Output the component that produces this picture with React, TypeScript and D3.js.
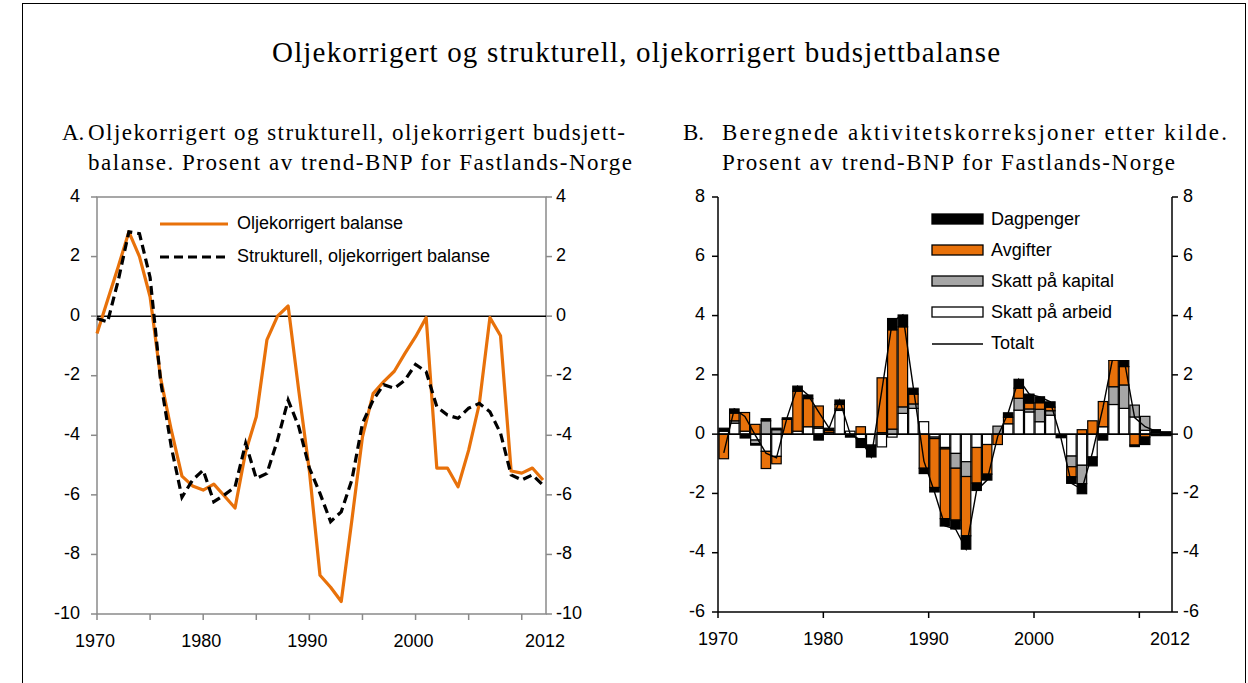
import React from "react";
import * as d3 from "d3";

// år (kategorier)
const years = [
  1970, 1971, 1972, 1973, 1974, 1975, 1976, 1977, 1978, 1979, 1980, 1981,
  1982, 1983, 1984, 1985, 1986, 1987, 1988, 1989, 1990, 1991, 1992, 1993,
  1994, 1995, 1996, 1997, 1998, 1999, 2000, 2001, 2002, 2003, 2004, 2005,
  2006, 2007, 2008, 2009, 2010, 2011, 2012,
];

// Panel A
const oljeBalanse = [
  -0.58, 0.54, 1.66, 2.83, 2.0, 0.65, -2.1, -3.83, -5.37, -5.7, -5.84, -5.64,
  -6.04, -6.44, -4.55, -3.38, -0.8, 0.0, 0.34, -2.5, -5.2, -8.7, -9.1, -9.58,
  -6.85, -4.05, -2.6, -2.2, -1.85, -1.25, -0.69, -0.05, -5.1, -5.1, -5.73,
  -4.5, -2.95, -0.05, -0.66, -5.2, -5.27, -5.1, -5.5,
];
const strukturellBalanse = [
  -0.08, -0.19, 1.2, 2.83, 2.77, 1.3, -2.2, -4.4, -6.08, -5.5, -5.17, -6.23,
  -6.0, -5.73, -4.27, -5.45, -5.28, -4.16, -2.82, -3.71, -5.1, -5.95, -6.9,
  -6.57, -5.5, -3.6, -2.82, -2.3, -2.42, -2.15, -1.62, -1.87, -3.04, -3.32,
  -3.43, -3.09, -2.93, -3.21, -3.93, -5.33, -5.5, -5.33, -5.67,
];
const yTicksA = [4, 2, 0, -2, -4, -6, -8, -10];
const xLabelsA = [1970, 1980, 1990, 2000, 2012];
const xTicksA = [1970, 1975, 1980, 1985, 1990, 1995, 2000, 2005, 2010];

// Panel B (komponenter)
const skattArbeid = [
  0.1, 0.37, 0.1, -0.2, -0.58, -0.75, 0, 0.1, 0.25, 0.2, 0.05, 0.8, 0.1,
  -0.15, -0.37, -0.43, -0.1, 0.7, 0.87, 0.42, -0.1, -0.45, -0.65, -0.93, -0.45,
  -0.35, 0, 0.35, 0.81, 0.75, 0.42, 0.64, 0, -0.74, -1.05, -0.77, 0.25, 1.0,
  0.87, 0.58, 0.13, 0.05, -0.05,
];
const skattKapital = [
  0, 0.08, 0, -0.12, 0.45, 0.15, 0, 0, 0, 0.05, 0, 0.05, 0, 0, 0, 0.05, 0.17,
  0.22, 0.15, 0, -0.05, -0.05, -0.5, -0.5, 0, 0, 0.27, 0, 0.4, 0.1, 0.42, 0.15,
  0, -0.36, -0.62, 0, 0, 0.6, 0.79, 0.4, 0.47, 0, 0,
];
const avgifter = [
  -0.83, 0.26, 0.63, 0.33, -0.58, -0.25, 0.5, 1.35, 0.95, 0.7, 0.07, 0.15, 0,
  0.25, 0, 1.85, 3.35, 2.7, 0.33, -1.15, -1.65, -2.35, -1.75, -2.0, -1.2, -1.0,
  -0.35, 0.22, 0.34, 0.2, 0.22, 0.12, 0, -0.34, 0.15, 0.45, 0.85, 0.9, 0.62,
  -0.37, -0.1, -0.05, 0,
];
const dagpenger = [
  0.1, 0.14, -0.13, -0.05, 0.07, 0.05, 0.05, 0.17, 0.12, -0.2, 0.08, 0.15,
  -0.1, -0.3, -0.4, 0, 0.38, 0.4, 0.2, -0.18, -0.15, -0.25, -0.3, -0.45, -0.25,
  -0.2, 0, 0.15, 0.3, 0.3, 0.2, 0.18, -0.12, -0.22, -0.34, -0.3, -0.2, 0.2,
  0.25, -0.05, -0.25, 0.1, 0.08,
];
const yTicksB = [8, 6, 4, 2, 0, -2, -4, -6];
const xLabelsB = [1970, 1980, 1990, 2000];

const ORANGE = "#e8710a";
const GRAY = "#a6a6a6";
const sans = "'Liberation Sans', Arial, sans-serif";
const serif = "'Liberation Serif', 'Times New Roman', serif";

function PanelA() {
  const left = 97,
    right = 546,
    top = 197,
    bottom = 614;
  const x = d3.scaleLinear().domain([1970, 2012]).range([left, 543]);
  const y = d3.scaleLinear().domain([-10, 4]).range([bottom, top]);
  const line = d3
    .line<number>()
    .x((d, i) => x(years[i]))
    .y((d) => y(d));
  const axisColor = "#8a8a8a";
  return (
    <g>
      <rect
        x={left}
        y={top}
        width={right - left}
        height={bottom - top}
        fill="none"
        stroke={axisColor}
        strokeWidth={1.5}
      />
      {yTicksA.map((t) => (
        <g key={t}>
          <line x1={left - 6} x2={left} y1={y(t)} y2={y(t)} stroke={axisColor} strokeWidth={1.5} />
          <line x1={right} x2={right + 6} y1={y(t)} y2={y(t)} stroke={axisColor} strokeWidth={1.5} />
          <text x={80} y={y(t)} textAnchor="end" dominantBaseline="middle" fontSize={18} fontFamily={sans}>
            {t}
          </text>
          <text x={556} y={y(t)} dominantBaseline="middle" fontSize={18} fontFamily={sans}>
            {t}
          </text>
        </g>
      ))}
      {xTicksA.map((t) => (
        <line key={t} x1={x(t)} x2={x(t)} y1={bottom} y2={bottom + 6} stroke={axisColor} strokeWidth={1.5} />
      ))}
      {xLabelsA.map((t) => (
        <text key={t} x={t === 2012 ? 545 : x(t) - 2} y={647} textAnchor="middle" fontSize={18} fontFamily={sans}>
          {t}
        </text>
      ))}
      <line x1={left} x2={right} y1={y(0)} y2={y(0)} stroke="black" strokeWidth={1.5} />
      <path d={line(oljeBalanse) || ""} fill="none" stroke={ORANGE} strokeWidth={3.2} strokeLinejoin="round" />
      <path
        d={line(strukturellBalanse) || ""}
        fill="none"
        stroke="black"
        strokeWidth={3.2}
        strokeDasharray="9,5"
      />
      {/* legend */}
      <line x1={160} x2={228} y1={224} y2={224} stroke={ORANGE} strokeWidth={3.2} />
      <text x={237} y={224} dominantBaseline="middle" fontSize={18} fontFamily={sans}>
        Oljekorrigert balanse
      </text>
      <line x1={160} x2={228} y1={257} y2={257} stroke="black" strokeWidth={3.2} strokeDasharray="9,5" />
      <text x={237} y={257} dominantBaseline="middle" fontSize={18} fontFamily={sans}>
        Strukturell, oljekorrigert balanse
      </text>
    </g>
  );
}

function PanelB() {
  const left = 718,
    right = 1172,
    top = 197,
    bottom = 612;
  const x = d3.scaleBand<number>().domain(years).range([left, right]).padding(0.1);
  const y = d3.scaleLinear().domain([-6, 8]).range([bottom, top]);
  const keys = ["arbeid", "kapital", "avgifter", "dagpenger"];
  const colors: Record<string, string> = {
    arbeid: "white",
    kapital: GRAY,
    avgifter: ORANGE,
    dagpenger: "black",
  };
  const rows = years.map((yr, i) => ({
    year: yr,
    arbeid: skattArbeid[i],
    kapital: skattKapital[i],
    avgifter: avgifter[i],
    dagpenger: dagpenger[i],
  }));
  const series = d3.stack<any>().keys(keys).offset(d3.stackOffsetDiverging)(rows);
  const totals = years.map((_, i) => skattArbeid[i] + skattKapital[i] + avgifter[i] + dagpenger[i]);
  const totalLine = d3
    .line<number>()
    .x((d, i) => (x(years[i]) as number) + x.bandwidth() / 2)
    .y((d) => y(d));
  const step = x.step();
  const xAt = (yr: number) => left + (yr - 1970) * step;
  const legend = [
    { label: "Dagpenger", fill: "black" },
    { label: "Avgifter", fill: ORANGE },
    { label: "Skatt på kapital", fill: GRAY },
    { label: "Skatt på arbeid", fill: "white" },
  ];
  return (
    <g>
      {series.map((s) => (
        <g key={s.key}>
          {s.map((d, i) => {
            const y0 = y(d[0]),
              y1 = y(d[1]);
            if (Math.abs(y0 - y1) < 0.01) return null;
            return (
              <rect
                key={i}
                x={x(years[i])}
                y={Math.min(y0, y1)}
                width={x.bandwidth()}
                height={Math.abs(y0 - y1)}
                fill={colors[s.key]}
                stroke="black"
                strokeWidth={1.2}
              />
            );
          })}
        </g>
      ))}
      <line x1={left} x2={right} y1={y(0)} y2={y(0)} stroke="black" strokeWidth={1.5} />
      <path d={totalLine(totals) || ""} fill="none" stroke="black" strokeWidth={1.4} />
      <line x1={left} x2={left} y1={top} y2={bottom} stroke="black" strokeWidth={1.5} />
      <line x1={right} x2={right} y1={top} y2={bottom} stroke="black" strokeWidth={1.5} />
      <line x1={left} x2={right} y1={bottom} y2={bottom} stroke="black" strokeWidth={1.5} />
      {yTicksB.map((t) => (
        <g key={t}>
          <line x1={left - 6} x2={left} y1={y(t)} y2={y(t)} stroke="black" strokeWidth={1.5} />
          <line x1={right} x2={right + 6} y1={y(t)} y2={y(t)} stroke="black" strokeWidth={1.5} />
          <text x={705} y={y(t)} textAnchor="end" dominantBaseline="middle" fontSize={18} fontFamily={sans}>
            {t}
          </text>
          <text x={1183} y={y(t)} dominantBaseline="middle" fontSize={18} fontFamily={sans}>
            {t}
          </text>
        </g>
      ))}
      {[1970, 1980, 1990, 2000, 2010].map((t) => (
        <line key={t} x1={xAt(t)} x2={xAt(t)} y1={bottom} y2={bottom + 6} stroke="black" strokeWidth={1.5} />
      ))}
      {xLabelsB.map((t) => (
        <text key={t} x={xAt(t)} y={645} textAnchor="middle" fontSize={18} fontFamily={sans}>
          {t}
        </text>
      ))}
      <text x={1170} y={645} textAnchor="middle" fontSize={18} fontFamily={sans}>
        2012
      </text>
      {/* legend */}
      <rect x={915} y={200} width={250} height={160} fill="white" />
      {legend.map((l, i) => (
        <g key={l.label}>
          <rect x={932} y={214 + i * 31} width={51} height={10} fill={l.fill} stroke="black" strokeWidth={1.3} />
          <text x={991} y={220 + i * 31} dominantBaseline="middle" fontSize={18} fontFamily={sans}>
            {l.label}
          </text>
        </g>
      ))}
      <line x1={932} x2={983} y1={344} y2={344} stroke="black" strokeWidth={1.3} />
      <text x={991} y={344} dominantBaseline="middle" fontSize={18} fontFamily={sans}>
        Totalt
      </text>
    </g>
  );
}

export default function App() {
  return (
    <div style={{ position: "absolute", left: 0, top: 0 }}>
      <svg width={1248} height={683} style={{ display: "block", background: "white" }}>
        <rect x={22.5} y={3.5} width={1223} height={720} fill="white" stroke="black" strokeWidth={1} />
        <text x={636} y={62} textAnchor="middle" fontSize={29} fontFamily={serif} textLength={728}>
          Oljekorrigert og strukturell, oljekorrigert budsjettbalanse
        </text>
        <text x={62} y={140} fontSize={23} fontFamily={serif}>
          A.
        </text>
        <text x={88} y={140} fontSize={23} fontFamily={serif} textLength={537}>
          Oljekorrigert og strukturell, oljekorrigert budsjett-
        </text>
        <text x={88} y={170} fontSize={23} fontFamily={serif} textLength={544}>
          balanse. Prosent av trend-BNP for Fastlands-Norge
        </text>
        <text x={683} y={140} fontSize={23} fontFamily={serif}>
          B.
        </text>
        <text x={722} y={140} fontSize={23} fontFamily={serif} textLength={505}>
          Beregnede aktivitetskorreksjoner etter kilde.
        </text>
        <text x={722} y={170} fontSize={23} fontFamily={serif} textLength={453}>
          Prosent av trend-BNP for Fastlands-Norge
        </text>
        <PanelA />
        <PanelB />
      </svg>
    </div>
  );
}
